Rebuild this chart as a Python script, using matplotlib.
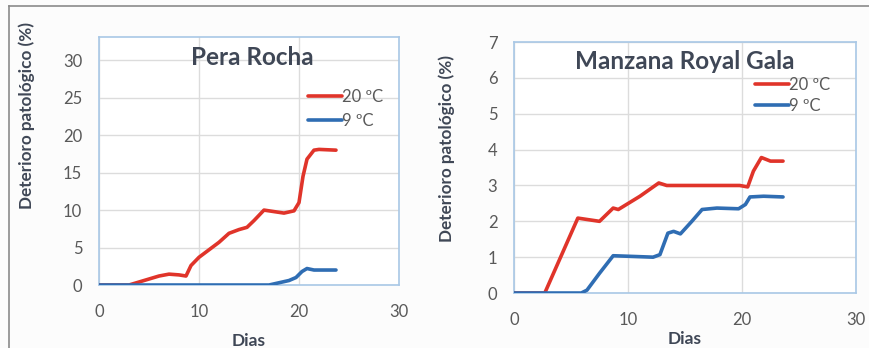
import matplotlib
matplotlib.use("Agg")
import matplotlib.pyplot as plt
from matplotlib.lines import Line2D

plt.rcParams['font.family'] = ['Lato', 'DejaVu Sans']

# Pera Rocha
pera_dias_20 = [0, 3, 4, 5, 6, 7, 8, 8.7, 9.2, 10, 11, 12, 13, 14, 14.8, 15.5,
                16.5, 17.5, 18.5, 19.5, 20, 20.4, 20.8, 21.5, 22, 23.7]
pera_20 = [0, 0, 0.4, 0.8, 1.2, 1.45, 1.35, 1.2, 2.6, 3.7, 4.7, 5.7, 6.9, 7.4, 7.7, 8.6,
           10.0, 9.8, 9.6, 9.9, 11.0, 14.5, 16.8, 18.0, 18.1, 18.0]
pera_dias_9 = [0, 17, 18, 19, 19.7, 20.3, 20.8, 21.5, 23.7]
pera_9 = [0, 0, 0.3, 0.6, 1.0, 1.8, 2.2, 2.0, 2.0]

# Manzana Royal Gala
manz_dias_20 = [0, 2.7, 5.6, 7.5, 8.7, 9.15, 11.05, 12.7, 13.4, 19.8, 20.5, 21, 21.7, 22.5, 23.6]
manz_20 = [0, 0, 2.09, 2.0, 2.37, 2.33, 2.7, 3.07, 3.0, 3.0, 2.96, 3.4, 3.78, 3.68, 3.68]
manz_dias_9 = [0, 5.9, 6.4, 7.5, 8.7, 10.5, 12.2, 12.8, 13.5, 14, 14.6, 15.6, 16.5,
               17.8, 19.7, 20.3, 20.7, 21.9, 23.6]
manz_9 = [0, 0, 0.08, 0.55, 1.04, 1.02, 1.0, 1.07, 1.67, 1.72, 1.65, 2.0, 2.33,
          2.37, 2.35, 2.47, 2.68, 2.70, 2.68]

red = '#e0342a'
blue = '#2f6db3'
frame = '#a9c8e6'
txt = '#595959'
lab = '#3f4756'

fig = plt.figure(figsize=(8.7, 3.48), dpi=100, facecolor='#fcfcfc')
fig.add_artist(Line2D([9.5 / 870, 9.5 / 870], [0, 1 - 6 / 348], color='#8a8a8a', lw=1.2))
fig.add_artist(Line2D([9.5 / 870, 1], [1 - 6 / 348, 1 - 6 / 348], color='#8a8a8a', lw=1.2))

ax1 = fig.add_axes([0.1138, 0.181, 0.3448, 0.7126])
ax2 = fig.add_axes([0.5908, 0.158, 0.3931, 0.721])

panels = [
    (ax1, pera_dias_20, pera_20, pera_dias_9, pera_9, 'Pera Rocha', 33.1, range(0, 31, 5),
     (-0.213, 0.685), -0.195, (15.3, 30.4), (0.697, 0.79), 0.45),
    (ax2, manz_dias_20, manz_20, manz_dias_9, manz_9, 'Manzana Royal Gala', 7, range(0, 8),
     (-0.173, 0.574), -0.15, (15, 6.47), (0.705, 0.86), 0.3),
]

for ax, d20, v20, d9, v9, title, ymax, yt, ylc, xly, tpos, lpos, lsp in panels:
    ax.set_facecolor('white')
    ax.plot(d20, v20, color=red, lw=2.6, label='20 ºC', solid_capstyle='round', zorder=3)
    ax.plot(d9, v9, color=blue, lw=2.6, label='9 ºC', solid_capstyle='round', zorder=3)
    ax.set_xlim(0, 30)
    ax.set_ylim(0, ymax)
    ax.set_xticks([0, 10, 20, 30])
    ax.set_yticks(list(yt))
    ax.grid(True, color='#dcdcdc', lw=1)
    ax.set_axisbelow(True)
    for s in ax.spines.values():
        s.set_color(frame)
        s.set_linewidth(1.2)
    ax.tick_params(length=0, labelsize=12, colors=txt)
    ax.tick_params(axis='x', pad=14)
    ax.tick_params(axis='y', pad=12)
    ax.set_ylabel('Deterioro patológico (%)', fontsize=12.3, fontweight='bold', color=lab)
    ax.yaxis.set_label_coords(*ylc)
    ax.set_xlabel('Dias', fontsize=12.5, fontweight='bold', color=lab)
    ax.xaxis.set_label_coords(0.5, xly)
    ax.text(tpos[0], tpos[1], title, ha='center', va='center', fontsize=17.5,
            fontweight='bold', color=lab)
    leg = ax.legend(loc='upper left', bbox_to_anchor=lpos, frameon=False, fontsize=12,
                    handlelength=2.05, handletextpad=0.0, labelspacing=lsp,
                    borderaxespad=0, borderpad=0)
    for t in leg.get_texts():
        t.set_color(txt)

fig.savefig('out.png', dpi=100, facecolor=fig.get_facecolor())
